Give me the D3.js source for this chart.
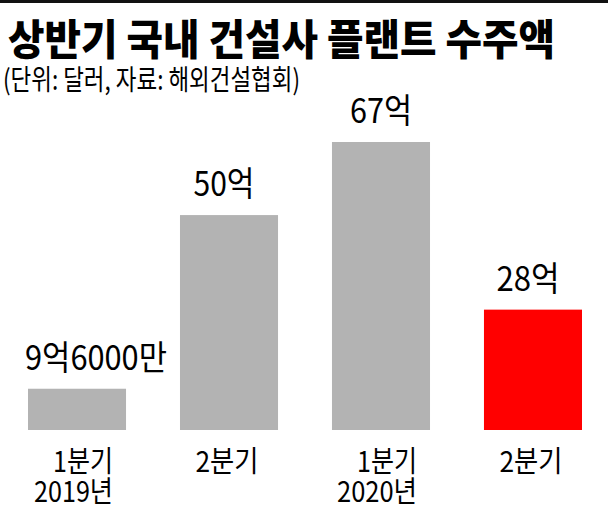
<!DOCTYPE html>
<html><head><meta charset="utf-8">
<script src="https://cdn.jsdelivr.net/npm/d3@7/dist/d3.min.js"></script>
<style>body{margin:0;background:#fff}svg{display:block}text{font-family:"Noto Sans CJK KR","Noto Sans",sans-serif}</style>
</head><body>
<svg id="c" width="608" height="506"></svg>
<script>
const categories = ["1분기|2019년", "2분기", "1분기|2020년", "2분기"];
const values = [9.6, 50, 67, 28];
const valueLabels = ["9억6000만", "50억", "67억", "28억"];
const colors = ["#b3b3b3", "#b3b3b3", "#b3b3b3", "#ff0000"];
const title = "상반기 국내 건설사 플랜트 수주액";
const subtitle = "(단위: 달러, 자료: 해외건설협회)";

const svg = d3.select("#c");
svg.append("rect").attr("x",0).attr("y",0).attr("width",608).attr("height",3).attr("fill","#111");
svg.append("text").attr("x",8).attr("y",55).attr("font-size",42).attr("font-weight",900)
  .attr("textLength",547).attr("lengthAdjust","spacingAndGlyphs").attr("fill","#000").text(title);
svg.append("text").attr("x",3).attr("y",90).attr("font-size",28).attr("font-weight",400)
  .attr("textLength",297).attr("lengthAdjust","spacingAndGlyphs").attr("fill","#000").text(subtitle);

const x = d3.scaleBand().domain(d3.range(values.length)).range([28, 582]).paddingInner(0.355).paddingOuter(0);
const y = d3.scaleLinear().domain([0, 67]).range([430, 142]);

svg.selectAll("rect.bar").data(values).join("rect").attr("class","bar")
  .attr("x",(d,i)=>x(i)).attr("width",x.bandwidth())
  .attr("y",d=>y(d)).attr("height",d=>y(0)-y(d))
  .attr("fill",(d,i)=>colors[i]);

const lblW = [142, 61, 62, 63];
svg.selectAll("text.val").data(values).join("text").attr("class","val")
  .attr("x",(d,i)=> i===0 ? x(i)-3 : x(i)+x.bandwidth()/2 - lblW[i]/2 - (i===2?0:5))
  .attr("y",d=>y(d)-19).attr("font-size",34)
  .attr("textLength",(d,i)=>lblW[i]).attr("lengthAdjust","spacingAndGlyphs")
  .text((d,i)=>valueLabels[i]);

const catG = svg.selectAll("g.cat").data(categories).join("g").attr("class","cat");
const lineW = {"1분기":60,"2분기":63,"2019년":79,"2020년":80};
catG.each(function(c,i){
  const lines = c.split("|");
  const g = d3.select(this);
  const right = lines.length>1;
  lines.forEach((ln,j)=>{
    const w = lineW[ln];
    const cx = x(i)+x.bandwidth()/2;
    const xs = right ? cx + 36 - w : cx - w/2 - 2;
    g.append("text").attr("x",xs).attr("y",472 + j*30).attr("font-size",29)
      .attr("textLength",w).attr("lengthAdjust","spacingAndGlyphs").text(ln);
  });
});
</script>
</body></html>
